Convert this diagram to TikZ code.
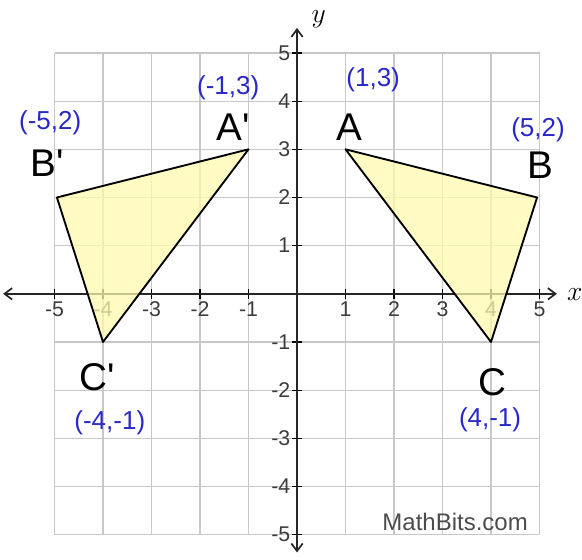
\documentclass[tikz,border=0pt]{standalone}
\usepackage{fontspec}
\setmainfont{Liberation Sans}
\usetikzlibrary{arrows.meta,positioning,calc}
\definecolor{gridgray}{RGB}{200,200,200}
\definecolor{ptblue}{RGB}{40,40,200}
\definecolor{trifill}{RGB}{255,250,175}
\definecolor{ticktext}{RGB}{60,60,60}

\begin{document}
\begin{tikzpicture}[x=36.4pt, y=36.15pt]
\useasboundingbox (-6.124,-5.519) rectangle (5.876,6.100);
\draw[gridgray, line width=0.9pt, step=1] (-5,-5) grid (5,5);
\foreach \x in {-5,-4,-3,-2,-1,1,2,3,4,5}
  \draw[line width=0.8pt] (\x,0.1) -- (\x,-0.1)
    node[below, font=\fontsize{16}{16}\selectfont, text=ticktext, inner sep=2pt] {\x};
\foreach \y in {-5,-4,-3,-2,-1,1,2,3,4,5}
  \draw[line width=0.8pt] (0.1,\y) -- (-0.1,\y)
    node[left, font=\fontsize{16}{16}\selectfont, text=ticktext, inner sep=1pt] {\y};
\draw[{Straight Barb[length=2mm, width=3mm]}-{Straight Barb[length=2mm, width=3mm]}, line width=1.3pt, black!85]
  (-6.06,0) -- (5.36,0);
\draw[{Straight Barb[length=2mm, width=3mm]}-{Straight Barb[length=2mm, width=3mm]}, line width=1.3pt, black!85]
  (0,-5.37) -- (0,5.52);
\node[font=\fontsize{20}{20}\selectfont] (xlab) at (5.73,-0.02) {$x$};
\node[font=\fontsize{20}{20}\selectfont] (ylab) at (0.45,5.7) {$y$};
% original triangle
\coordinate (A) at (1,3);
\coordinate (B) at (4.95,2);
\coordinate (C) at (4,-1);
% reflected triangle
\coordinate (A') at (-1,3);
\coordinate (B') at (-4.95,2);
\coordinate (C') at (-4,-1);
\fill[trifill, fill opacity=0.75] (A) -- (B) -- (C) -- cycle;
\fill[trifill, fill opacity=0.75] (A') -- (B') -- (C') -- cycle;
\draw[line width=1.4pt, line join=round] (A) -- (B) -- (C) -- cycle;
\draw[line width=1.4pt, line join=round] (A') -- (B') -- (C') -- cycle;
\tikzset{vlab/.style={font=\fontsize{29}{29}\selectfont, inner sep=0pt},
  plab/.style={font=\fontsize{19.5}{20}\selectfont, text=ptblue, inner sep=0pt}}
\node[vlab] (labA) at (1.07,3.46) {A};
\node[vlab] (labB) at (5.01,2.68) {B};
\node[vlab] (labC) at (4.02,-1.83) {C};
\node[vlab] (labA') at (-1.32,3.46) {A\textquotesingle};
\node[vlab] (labB') at (-5.15,2.72) {B\textquotesingle};
\node[vlab] (labC') at (-4.12,-1.74) {C\textquotesingle};
\node[plab] (cA) at (1.57,4.44) {(1,3)};
\node[plab] (cB) at (4.97,3.40) {(5,2)};
\node[plab] (cC) at (3.98,-2.61) {(4,-1)};
\node[plab] (cA') at (-1.42,4.27) {(-1,3)};
\node[plab] (cB') at (-5.09,3.55) {(-5,2)};
\node[plab] (cC') at (-3.86,-2.68) {(-4,-1)};
\node[font=\fontsize{18}{18}\selectfont, text=black!70, inner sep=0pt] (site) at (3.26,-4.73) {MathBits.com};
\end{tikzpicture}
\end{document}
